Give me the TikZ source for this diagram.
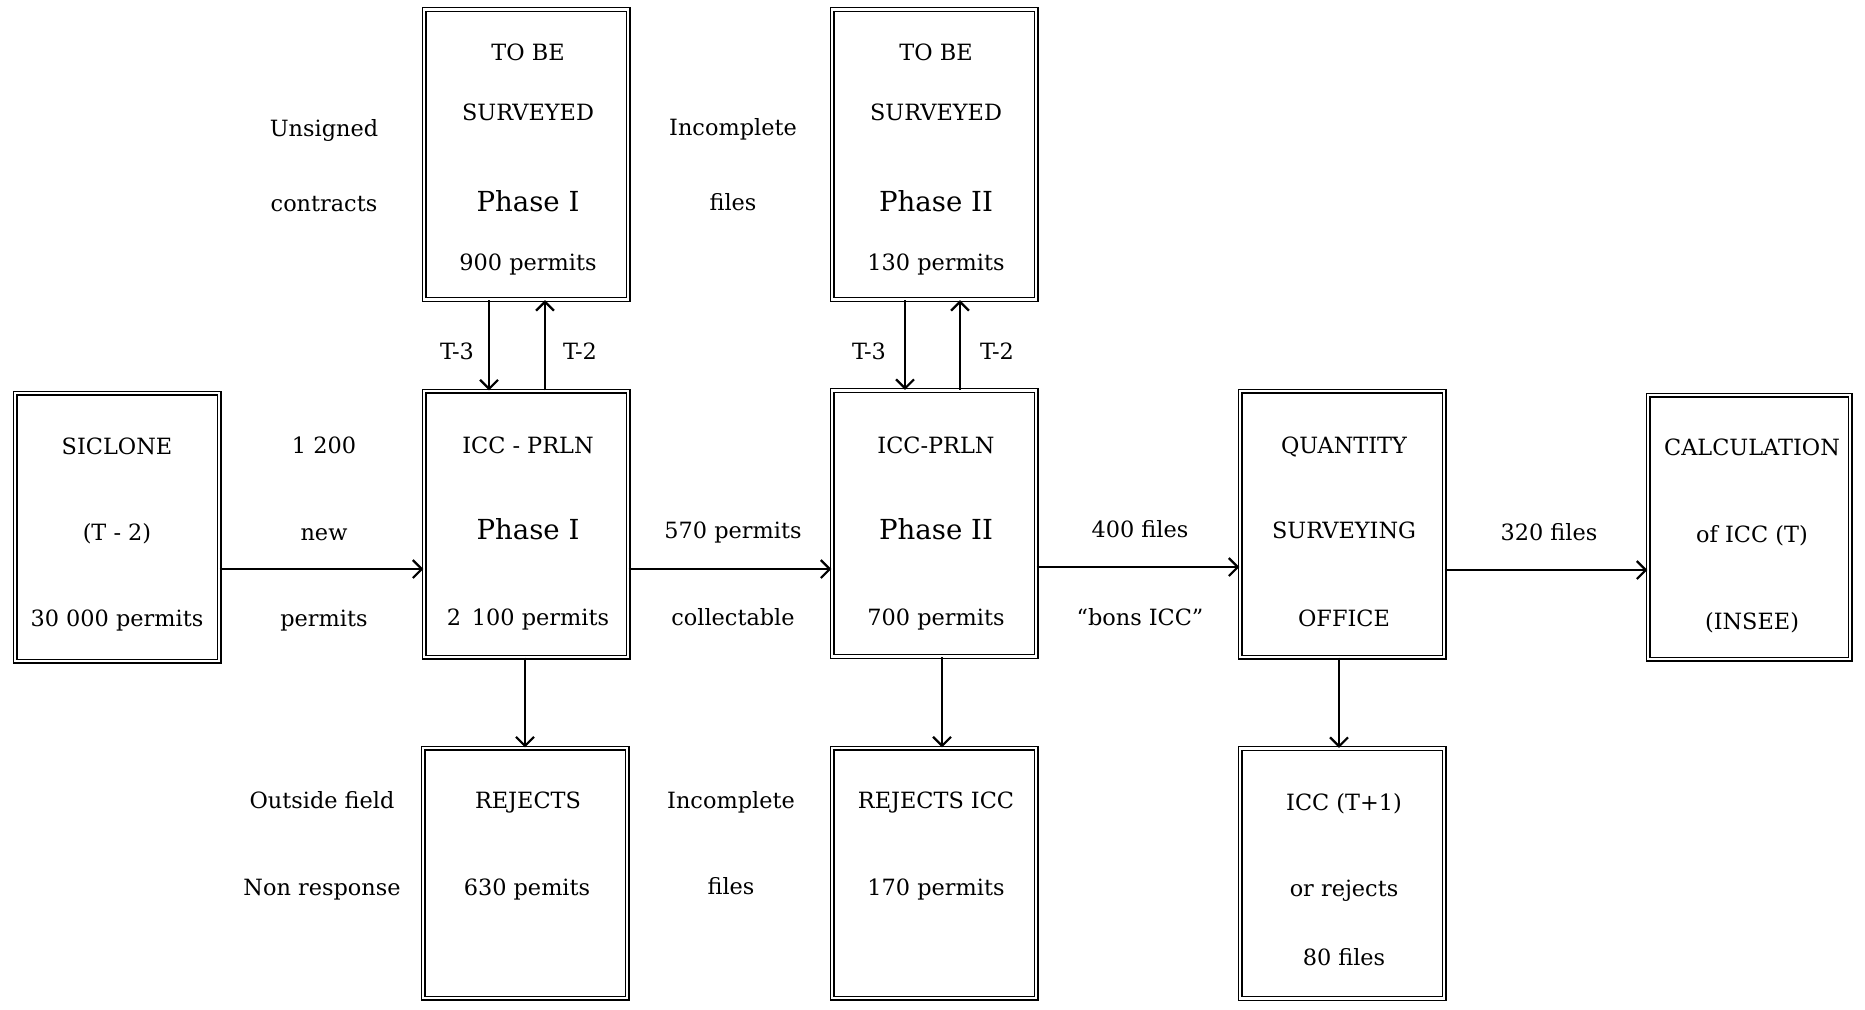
\documentclass[tikz,border=0pt]{standalone}
\usepackage{fontspec}
\setmainfont{DejaVu Serif}
\usetikzlibrary{arrows.meta}
\begin{document}
\begin{tikzpicture}[x=0.5pt,y=-0.5pt,
  box/.style={draw, line width=0.65pt, double, double distance=1.2pt, minimum width=102pt, inner sep=0pt},
  txt/.style={font=\fontsize{11.2}{13}\selectfont, inner sep=0pt, anchor=base},
  big/.style={font=\fontsize{13.8}{16}\selectfont, inner sep=0pt, anchor=base},
  arr/.style={line width=0.6pt, -{Straight Barb[length=4.5pt,width=9pt,line width=1.1pt]}}]
\useasboundingbox (0,0) rectangle (1865,1009);
% boxes
\node[box, minimum height=134pt] (sic) at (117,527) {};
\node[box, minimum height=145pt] (tbs1) at (526,154.5) {};
\node[box, minimum height=133pt] (icc1) at (526,524) {};
\node[box, minimum height=125pt] (rej1) at (525,873) {};
\node[box, minimum height=145pt] (tbs2) at (934,154.5) {};
\node[box, minimum height=133pt] (icc2) at (934,523.5) {};
\node[box, minimum height=125pt] (rej2) at (934,873) {};
\node[box, minimum height=133pt] (qso) at (1342,524) {};
\node[box, minimum height=125pt] (icct) at (1342,873.5) {};
\node[box, minimum height=132pt, minimum width=101pt] (calc) at (1749,527) {};
% box texts
\node[txt] (t1) at (117,454) {SICLONE};
\node[txt] (t2) at (117,540) {(T - 2)};
\node[txt] (t3) at (117,626) {30 000 permits};
\node[txt] (t4) at (528,60) {TO BE};
\node[txt] (t5) at (528,120) {SURVEYED};
\node[big] (t6) at (528,211) {Phase I};
\node[txt] (t7) at (528,270) {900 permits};
\node[txt] (t8) at (528,453) {ICC - PRLN};
\node[big] (t9) at (528,539) {Phase I};
\node[txt] (t10) at (528,625) {2 \,100 permits};
\node[txt] (t11) at (528,808) {REJECTS};
\node[txt] (t12) at (527,895) {630 pemits};
\node[txt] (t13) at (936,60) {TO BE};
\node[txt] (t14) at (936,120) {SURVEYED};
\node[big] (t15) at (936,211) {Phase II};
\node[txt] (t16) at (936,270) {130 permits};
\node[txt] (t17) at (936,453) {ICC-PRLN};
\node[big] (t18) at (936,539) {Phase II};
\node[txt] (t19) at (936,625) {700 permits};
\node[txt] (t20) at (936,808) {REJECTS ICC};
\node[txt] (t21) at (936,895) {170 permits};
\node[txt] (t22) at (1344,453) {QUANTITY};
\node[txt] (t23) at (1344,538) {SURVEYING};
\node[txt] (t24) at (1344,626) {OFFICE};
\node[txt] (t25) at (1344,810) {ICC (T+1)};
\node[txt] (t26) at (1344,896) {or rejects};
\node[txt] (t27) at (1344,965) {80 files};
\node[txt] (t28) at (1752,455) {CALCULATION};
\node[txt] (t29) at (1752,542) {of ICC (T)};
\node[txt] (t30) at (1752,629) {(INSEE)};
% side labels
\node[txt] (l1) at (324,136) {Unsigned};
\node[txt] (l2) at (324,211) {contracts};
\node[txt] (l3) at (733,135) {Incomplete};
\node[txt] (l4) at (733,210) {files};
\node[txt] (l5) at (324,453) {1 200};
\node[txt] (l6) at (324,540) {new};
\node[txt] (l7) at (324,626) {permits};
\node[txt] (l8) at (733,538) {570 permits};
\node[txt] (l9) at (733,625) {collectable};
\node[txt] (l10) at (1140,537) {400 files};
\node[txt] (l11) at (1140,625) {“bons ICC”};
\node[txt] (l12) at (1549,540) {320 files};
\node[txt] (l13) at (322,808) {Outside field};
\node[txt] (l14) at (322,895) {Non response};
\node[txt] (l15) at (731,808) {Incomplete};
\node[txt] (l16) at (731,894) {files};
\node[txt] (l17) at (457,359) {T-3};
\node[txt] (l18) at (580,359) {T-2};
\node[txt] (l19) at (869,359) {T-3};
\node[txt] (l20) at (997,359) {T-2};
% connector levels
\coordinate (h1) at (0,569);
\coordinate (h2) at (0,567);
\coordinate (h3) at (0,570);
\coordinate (v1) at (489,0);
\coordinate (v2) at (545,0);
\coordinate (v3) at (905,0);
\coordinate (v4) at (960,0);
\coordinate (v5) at (525,0);
\coordinate (v6) at (942,0);
\coordinate (v7) at (1339,0);
% horizontal arrows
\draw[arr] (sic.east |- h1) -- (icc1.west |- h1);
\draw[arr] (icc1.east |- h1) -- (icc2.west |- h1);
\draw[arr] (icc2.east |- h2) -- (qso.west |- h2);
\draw[arr] (qso.east |- h3) -- (calc.west |- h3);
% vertical arrows
\draw[arr] (tbs1.south -| v1) -- (icc1.north -| v1);
\draw[arr] (icc1.north -| v2) -- (tbs1.south -| v2);
\draw[arr] (tbs2.south -| v3) -- (icc2.north -| v3);
\draw[arr] (icc2.north -| v4) -- (tbs2.south -| v4);
\draw[arr] (icc1.south -| v5) -- (rej1.north -| v5);
\draw[arr] (icc2.south -| v6) -- (rej2.north -| v6);
\draw[arr] (qso.south -| v7) -- (icct.north -| v7);
\end{tikzpicture}
\end{document}
